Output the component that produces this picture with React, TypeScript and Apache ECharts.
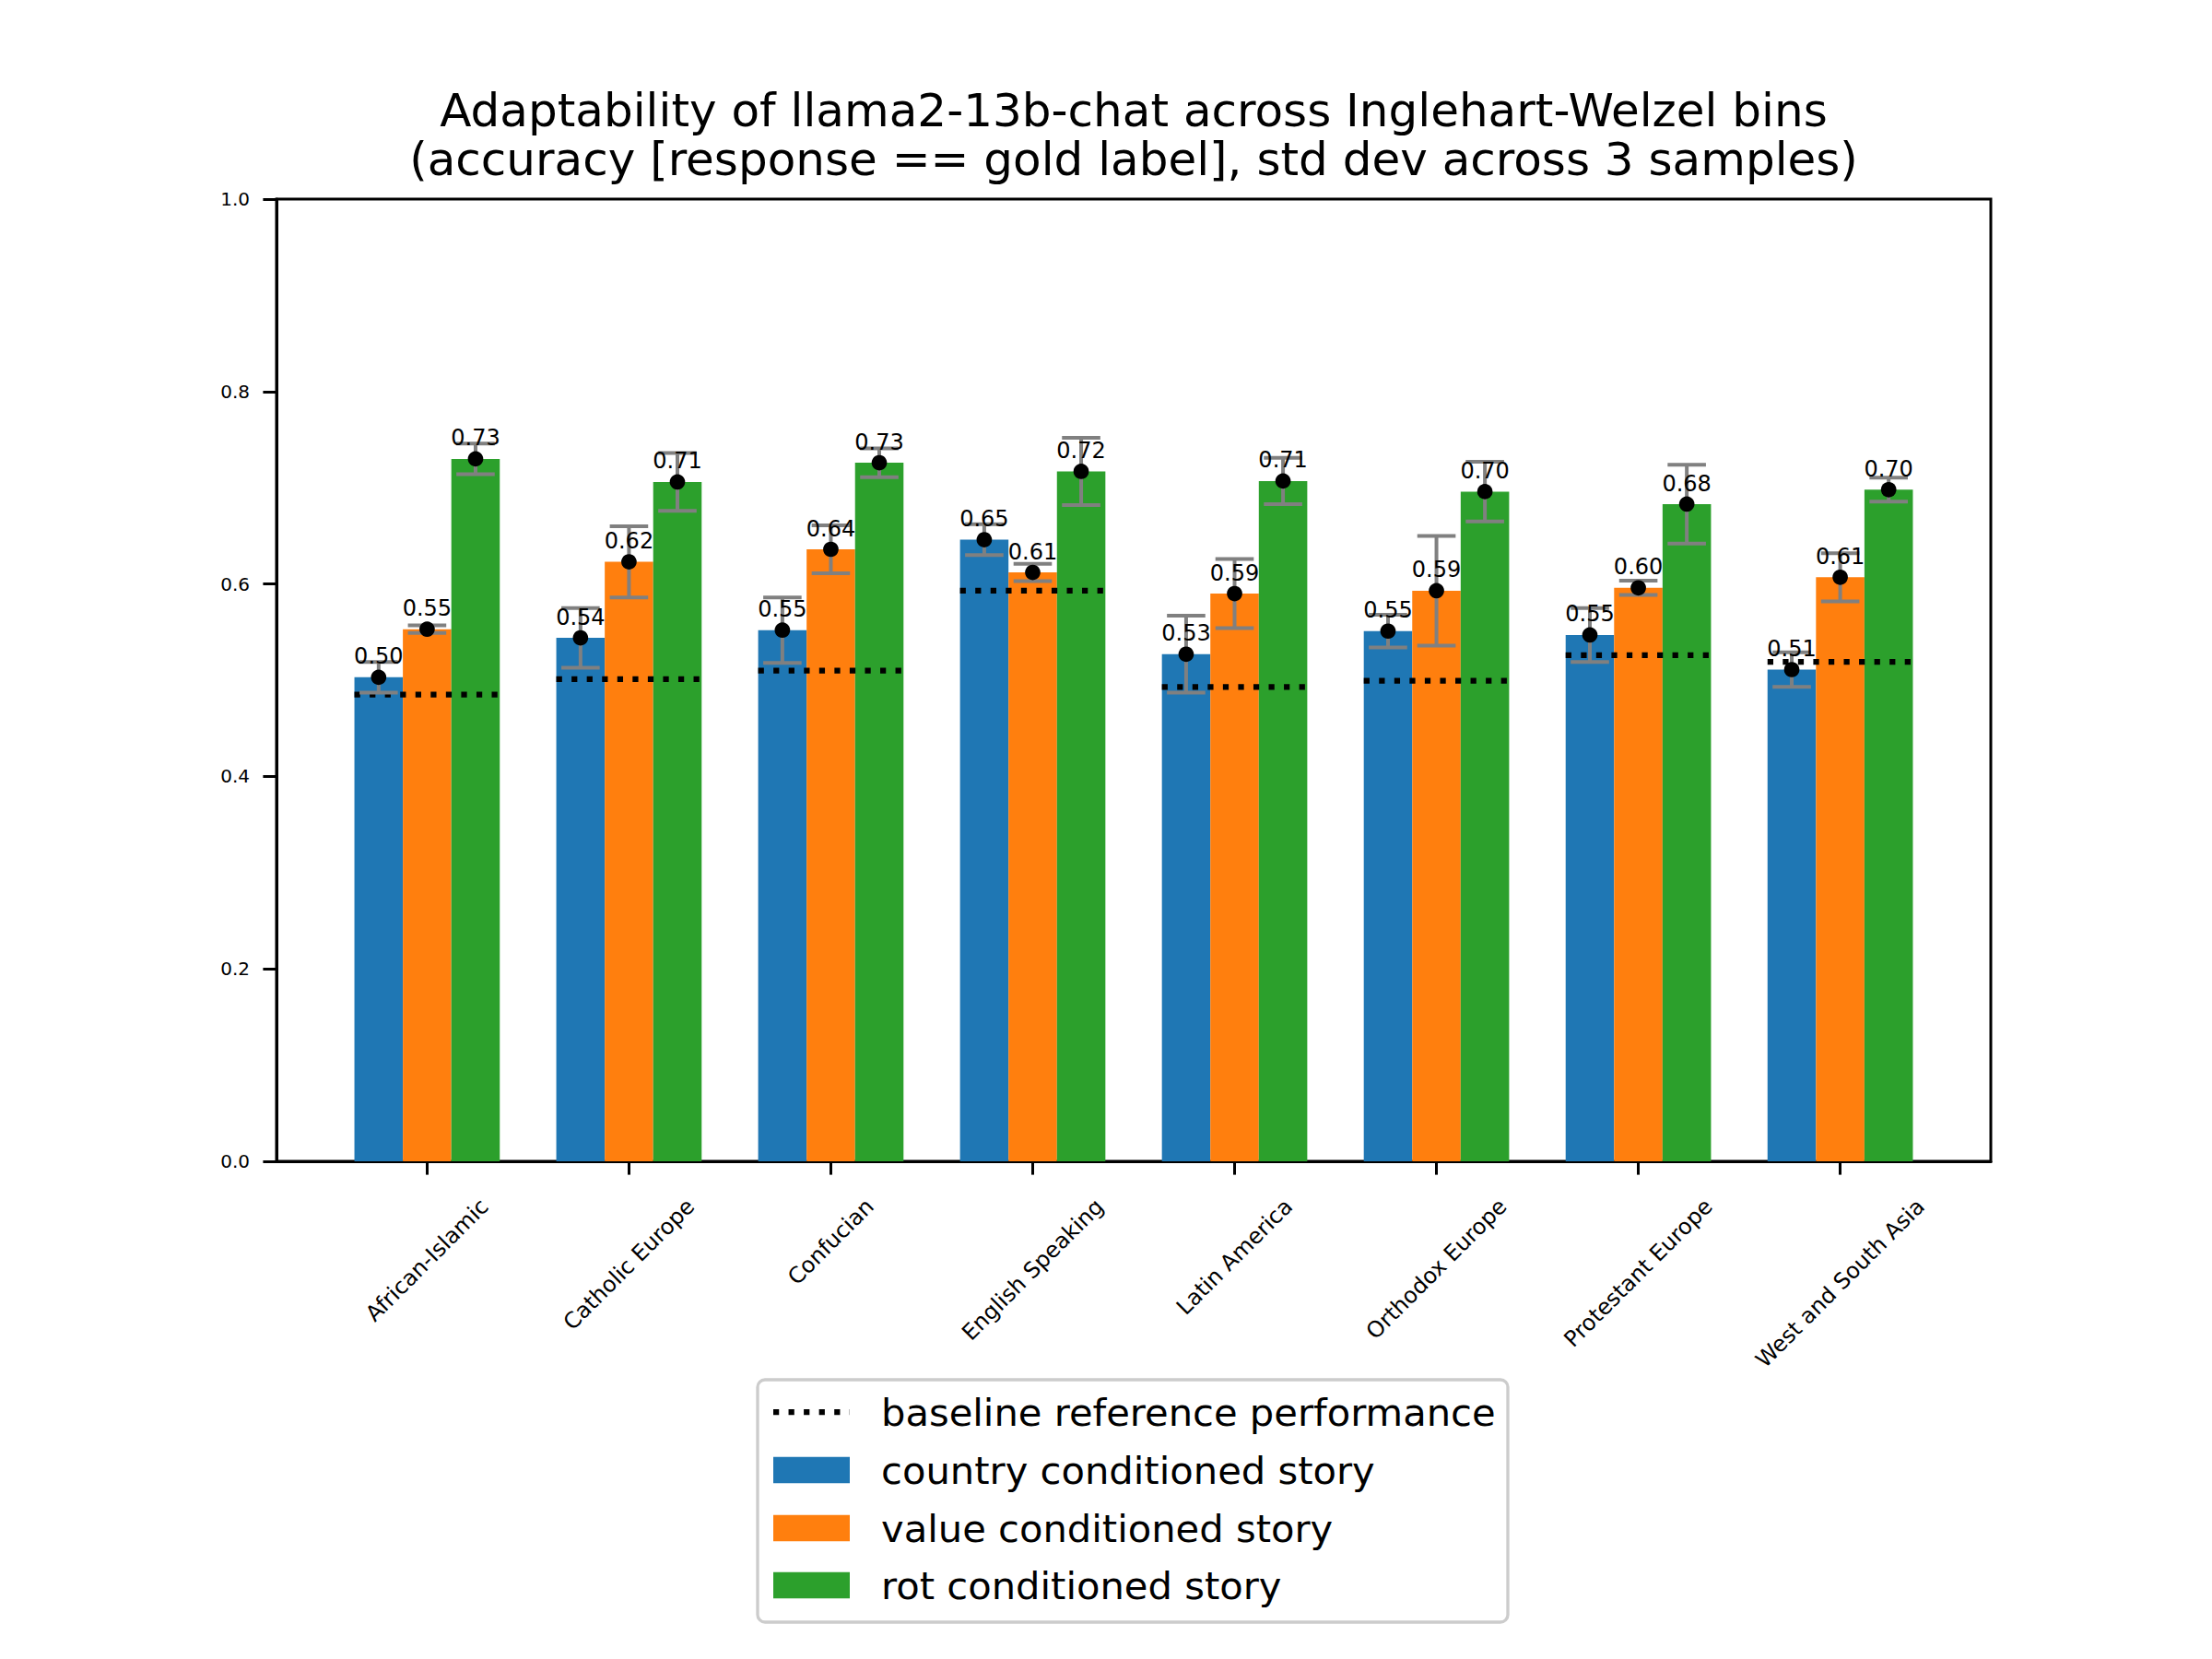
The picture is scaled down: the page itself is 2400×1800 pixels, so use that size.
import React, { useEffect, useRef } from "react";
import * as echarts from "echarts";

const categories = [
  "African-Islamic",
  "Catholic Europe",
  "Confucian",
  "English Speaking",
  "Latin America",
  "Orthodox Europe",
  "Protestant Europe",
  "West and South Asia",
];
const seriesNames = ["country conditioned story", "value conditioned story", "rot conditioned story"];
const baselineName = "baseline reference performance";
const countryMean = [0.503, 0.544, 0.552, 0.646, 0.527, 0.551, 0.547, 0.511];
const countryStd = [0.016, 0.031, 0.034, 0.016, 0.04, 0.017, 0.028, 0.018];
const valueMean = [0.553, 0.623, 0.636, 0.612, 0.59, 0.593, 0.596, 0.607];
const valueStd = [0.004, 0.037, 0.025, 0.009, 0.036, 0.057, 0.0075, 0.025];
const rotMean = [0.73, 0.706, 0.726, 0.717, 0.707, 0.696, 0.683, 0.698];
const rotStd = [0.016, 0.03, 0.015, 0.035, 0.024, 0.031, 0.041, 0.0125];
const baseline = [0.485, 0.501, 0.51, 0.593, 0.493, 0.4995, 0.526, 0.519];
const yTicks = [0, 0.2, 0.4, 0.6, 0.8, 1.0];
const titleLines = [
  "Adaptability of llama2-13b-chat across Inglehart-Welzel bins",
  "(accuracy [response == gold label], std dev across 3 samples)",
];

const COLORS = ["#1f77b4", "#ff7f0e", "#2ca02c"];
const FONT = "DejaVu Sans";
const BAR_W = 0.24;

export default function App() {
  const ref = useRef<HTMLDivElement>(null);
  useEffect(() => {
    if (!ref.current) return;
    const chart = echarts.init(ref.current, undefined, { renderer: "svg" });

    const means = [countryMean, valueMean, rotMean];
    const stds = [countryStd, valueStd, rotStd];
    const offsets = [-BAR_W, 0, BAR_W];

    const barData: number[][] = [];
    const errData: number[][] = [];
    const dotData: number[][] = [];
    for (let s = 0; s < 3; s++) {
      for (let i = 0; i < categories.length; i++) {
        const x = i + offsets[s];
        barData.push([x, means[s][i], s]);
        errData.push([x, means[s][i], stds[s][i]]);
        dotData.push([x, means[s][i]]);
      }
    }
    const baseData = baseline.map((b, i) => [i, b]);
    const catData = categories.map((_, i) => [i, 0]);

    // matplotlib-like 5% margins around the bars
    const dataMin = -1.5 * BAR_W;
    const dataMax = categories.length - 1 + 1.5 * BAR_W;
    const pad = 0.05 * (dataMax - dataMin);
    const xMin = dataMin - pad;
    const xMax = dataMax + pad;

    const valueSize = 24;
    const yLabelSize = 20;
    const xLabelSize = 24;
    const canvas = document.createElement("canvas");
    const ctx = canvas.getContext("2d")!;
    ctx.font = `${xLabelSize}px '${FONT}'`;
    const labelWidths = categories.map((c) => ctx.measureText(c).width);
    const textH = xLabelSize * 1.17;
    const s45 = Math.SQRT1_2;

    const plotLeft = 300;
    const plotRight = 2160;
    const plotTop = 216;
    const plotBottom = 1260;
    const axisCenter = (plotLeft + plotRight) / 2;

    // legend layout
    const lgX = 822, lgY = 1497, lgW = 814, lgH = 263;
    const rowY = [1532, 1595, 1658, 1720];
    const hX0 = 839, hX1 = 922, textX = 956;
    const legendFont = 41.67;

    const legendEls: any[] = [
      {
        type: "rect",
        shape: { x: lgX, y: lgY, width: lgW, height: lgH, r: 8 },
        style: { fill: "#ffffff", stroke: "#cccccc", lineWidth: 3.3 },
        z: 10,
      },
      {
        type: "line",
        shape: { x1: hX0, y1: rowY[0], x2: hX1, y2: rowY[0] },
        style: { stroke: "#000", lineWidth: 6.25, lineDash: [6.25, 10.3], lineCap: "butt" },
        z: 11,
      },
      {
        type: "text",
        x: textX,
        y: rowY[0],
        style: { text: baselineName, fontSize: legendFont, fontFamily: FONT, fill: "#000", align: "left", verticalAlign: "middle" },
        z: 11,
      },
    ];
    seriesNames.forEach((n, k) => {
      legendEls.push({
        type: "rect",
        shape: { x: hX0, y: rowY[k + 1] - 14.3, width: hX1 - hX0, height: 28.6 },
        style: { fill: COLORS[k] },
        z: 11,
      });
      legendEls.push({
        type: "text",
        x: textX,
        y: rowY[k + 1],
        style: { text: n, fontSize: legendFont, fontFamily: FONT, fill: "#000", align: "left", verticalAlign: "middle" },
        z: 11,
      });
    });

    const titleEls = titleLines.map((t, k) => ({
      type: "text",
      x: axisCenter,
      y: k === 0 ? 119.5 : 173,
      style: { text: t, fontSize: 50, fontFamily: FONT, fill: "#000", align: "center", verticalAlign: "middle" },
    }));

    chart.setOption({
      animation: false,
      backgroundColor: "#ffffff",
      textStyle: { fontFamily: FONT },
      grid: {
        left: plotLeft,
        top: plotTop,
        right: 2400 - plotRight,
        bottom: 1800 - plotBottom,
        show: true,
        borderColor: "#000",
        borderWidth: 3,
        containLabel: false,
        outerBoundsMode: "none",
      },
      xAxis: {
        type: "value",
        min: xMin,
        max: xMax,
        axisLine: { show: true, onZero: false, lineStyle: { color: "#000", width: 3 } },
        axisTick: { show: true, length: 14.6, lineStyle: { color: "#000", width: 3 }, customValues: categories.map((_, i) => i) },
        axisLabel: { show: false, customValues: categories.map((_, i) => i) },
        splitLine: { show: false },
      },
      yAxis: {
        type: "value",
        min: 0,
        max: 1,
        interval: 0.2,
        axisLine: { show: true, onZero: false, lineStyle: { color: "#000", width: 3 } },
        axisTick: { show: true, length: 14.6, lineStyle: { color: "#000", width: 3 }, customValues: yTicks },
        axisLabel: {
          show: true,
          customValues: yTicks,
          formatter: (v: number) => v.toFixed(1),
          fontSize: yLabelSize,
          fontFamily: FONT,
          color: "#000",
          margin: 29,
        },
        splitLine: { show: false },
      },
      graphic: { elements: [...titleEls, ...legendEls] },
      series: [
        {
          type: "custom",
          name: "bars",
          data: barData,
          encode: { x: 0, y: 1 },
          clip: false,
          z: 1,
          renderItem: (params: any, api: any) => {
            const x = api.value(0);
            const y = api.value(1);
            const s = api.value(2);
            const p0 = api.coord([x - BAR_W / 2, y]);
            const p1 = api.coord([x + BAR_W / 2, 0]);
            return {
              type: "rect",
              shape: { x: p0[0], y: p0[1], width: p1[0] - p0[0], height: p1[1] - p0[1] },
              style: { fill: COLORS[s] },
            };
          },
        },
        {
          type: "custom",
          name: baselineName,
          data: baseData,
          encode: { x: 0, y: 1 },
          clip: false,
          z: 2,
          renderItem: (params: any, api: any) => {
            const i = api.value(0);
            const b = api.value(1);
            const a = api.coord([i - 1.5 * BAR_W, b]);
            const c = api.coord([i + 1.5 * BAR_W, b]);
            return {
              type: "line",
              shape: { x1: a[0], y1: a[1], x2: c[0], y2: c[1] },
              style: { stroke: "#000", lineWidth: 6.25, lineDash: [6.25, 10.3], lineCap: "butt" },
            };
          },
        },
        {
          type: "custom",
          name: "errors",
          data: errData,
          encode: { x: 0, y: 1 },
          clip: false,
          z: 3,
          renderItem: (params: any, api: any) => {
            const x = api.value(0);
            const m = api.value(1);
            const sd = api.value(2);
            const top = api.coord([x, m + sd]);
            const bot = api.coord([x, m - sd]);
            const cap = 20.8;
            const st = { stroke: "#808080", lineWidth: 4 };
            return {
              type: "group",
              children: [
                { type: "line", shape: { x1: top[0], y1: top[1], x2: bot[0], y2: bot[1] }, style: st },
                { type: "line", shape: { x1: top[0] - cap, y1: top[1], x2: top[0] + cap, y2: top[1] }, style: st },
                { type: "line", shape: { x1: bot[0] - cap, y1: bot[1], x2: bot[0] + cap, y2: bot[1] }, style: st },
              ],
            };
          },
        },
        {
          type: "scatter",
          name: "dots",
          data: dotData,
          symbol: "circle",
          symbolSize: 16.7,
          itemStyle: { color: "#000", opacity: 1 },
          z: 4,
        },
        {
          type: "custom",
          name: "valueLabels",
          data: dotData,
          encode: { x: 0, y: 1 },
          clip: false,
          z: 5,
          renderItem: (params: any, api: any) => {
            const x = api.value(0);
            const m = api.value(1);
            const p = api.coord([x, m + 0.01]);
            return {
              type: "text",
              x: p[0],
              y: p[1],
              style: {
                text: m.toFixed(2),
                fontSize: valueSize,
                fontFamily: FONT,
                fill: "#000",
                align: "center",
                verticalAlign: "bottom",
              },
            };
          },
        },
        {
          type: "custom",
          name: "categoryLabels",
          data: catData,
          encode: { x: 0, y: 1 },
          clip: false,
          z: 5,
          renderItem: (params: any, api: any) => {
            const i = api.value(0);
            const p = api.coord([i, 0]);
            const h = (labelWidths[i] + textH) * s45;
            const top = p[1] + 35;
            return {
              type: "text",
              x: p[0],
              y: top + h / 2,
              rotation: Math.PI / 4,
              style: {
                text: categories[i],
                fontSize: xLabelSize,
                fontFamily: FONT,
                fill: "#000",
                align: "center",
                verticalAlign: "middle",
              },
            };
          },
        },
      ],
    });
    return () => chart.dispose();
  }, []);
  return (
    <div
      ref={ref}
      style={{ position: "absolute", left: 0, top: 0, width: 2400, height: 1800, background: "#fff" }}
    />
  );
}
